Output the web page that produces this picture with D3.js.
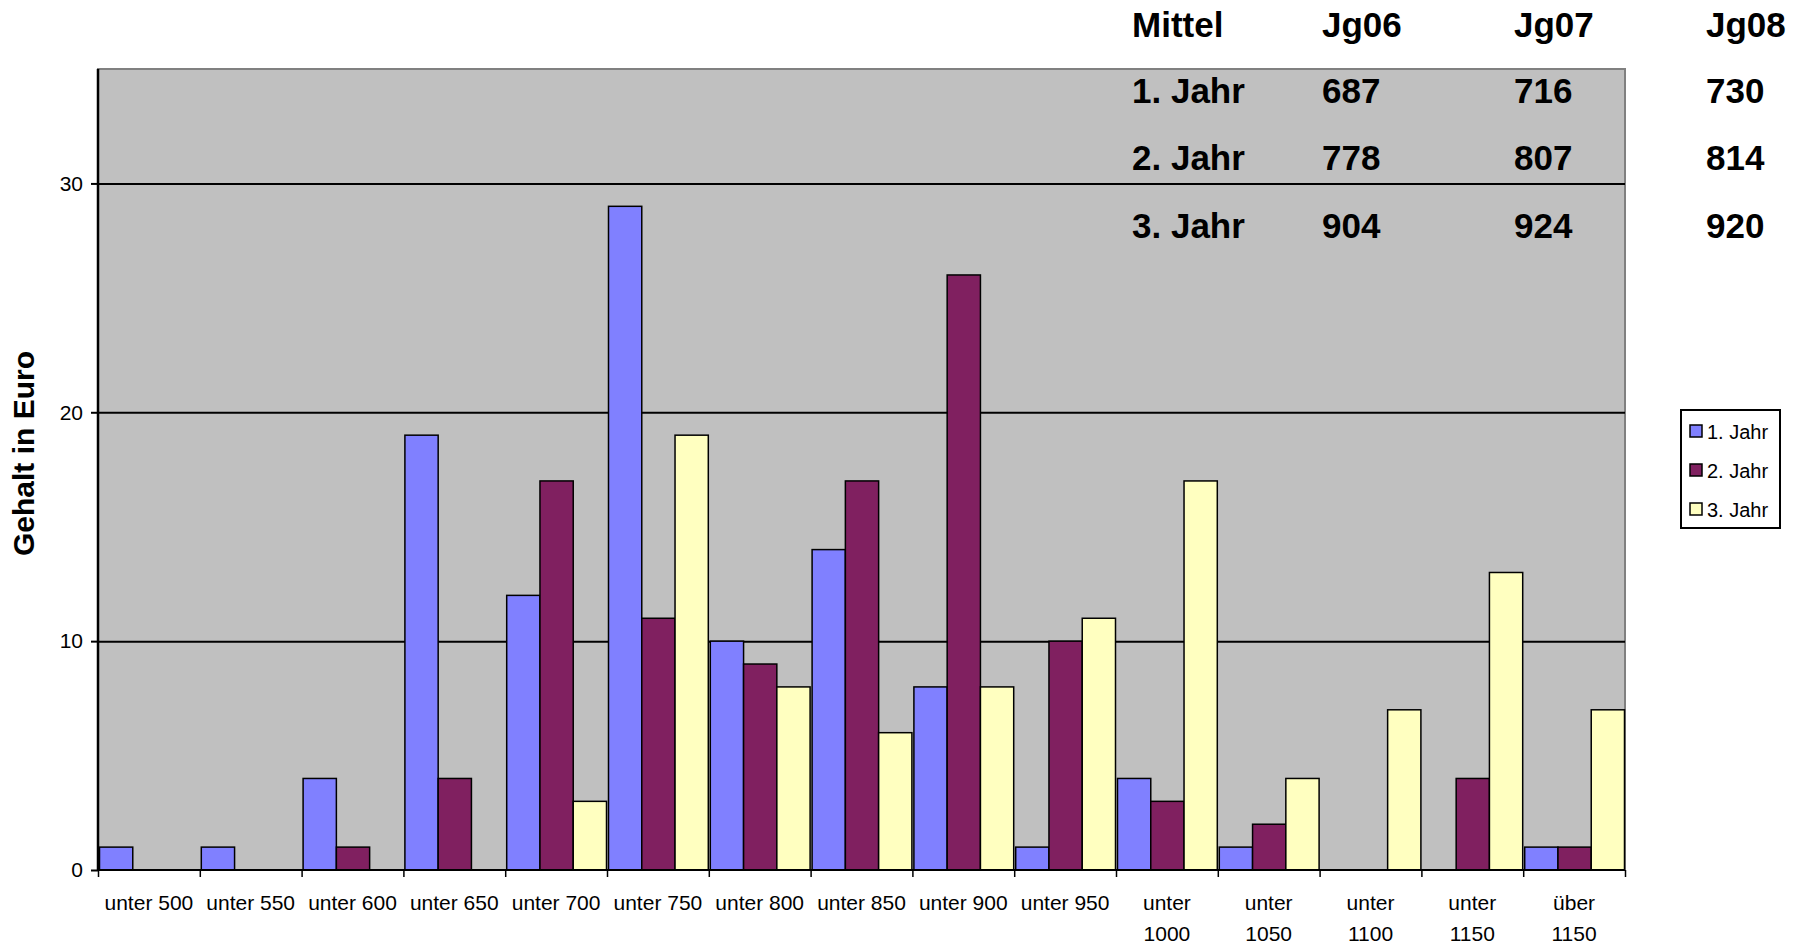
<!DOCTYPE html>
<html>
<head>
<meta charset="utf-8">
<script src="https://cdn.jsdelivr.net/npm/d3@7"></script>
<style>
  body { margin: 0; background: #fff; }
  text { font-family: "Liberation Sans", Arial, sans-serif; }
</style>
</head>
<body>
<div id="chart_container"></div>
<script>
// data
var categories = ["unter 500", "unter 550", "unter 600", "unter 650", "unter 700", "unter 750",
    "unter 800", "unter 850", "unter 900", "unter 950", "unter 1000", "unter 1050",
    "unter 1100", "unter 1150", "über 1150"];
var seriesNames = ["1. Jahr", "2. Jahr", "3. Jahr"];
var jahr1 = [1, 1, 4, 19, 12, 29, 10, 14, 8, 1, 4, 1, 0, 0, 1];
var jahr2 = [0, 0, 1, 4, 17, 11, 9, 17, 26, 10, 3, 2, 0, 4, 1];
var jahr3 = [0, 0, 0, 0, 3, 19, 8, 6, 8, 11, 17, 4, 7, 13, 7];
var yTicks = [0, 10, 20, 30];

// table of averages in the top right
var tableHeader = ["Mittel", "Jg06", "Jg07", "Jg08"];
var tableRows = [
    ["1. Jahr", "687", "716", "730"],
    ["2. Jahr", "778", "807", "814"],
    ["3. Jahr", "904", "924", "920"]
];

var colors = ["#8080FF", "#802060", "#FFFFC0"];

// set the dimensions and margins of the graph
var W = 1808, H = 944;
var margin = { top: 69, right: 183, bottom: 74, left: 98 },
    width = W - margin.left - margin.right,
    height = H - margin.top - margin.bottom;

var series = [jahr1, jahr2, jahr3];

// set the ranges
var x0 = d3.scaleBand().domain(categories).range([0, width]).paddingInner(0).paddingOuter(0);
var x1 = d3.scaleBand().domain(d3.range(3)).range([1.5, x0.bandwidth() - 0.5]);
var xEdge = d3.scaleLinear().domain([0, categories.length]).range([0, width]);
var y = d3.scaleLinear().domain([0, 35]).range([height, 0]);

var svg = d3.select("#chart_container").append("svg")
    .attr("width", W)
    .attr("height", H);

var g = svg.append("g")
    .attr("transform", "translate(" + margin.left + "," + margin.top + ")");

// plot area
g.append("rect")
    .attr("width", width)
    .attr("height", height)
    .attr("fill", "#C0C0C0")
    .attr("stroke", "#808080")
    .attr("stroke-width", 2);

// Y gridlines
g.append("g")
    .attr("class", "grid")
    .call(d3.axisLeft(y).tickValues(yTicks.slice(1)).tickSize(-width).tickFormat(""))
    .call(function(s) {
        s.select(".domain").remove();
        s.selectAll("line").attr("stroke", "#000").attr("stroke-width", 2);
    });

// bars
var groups = g.selectAll(".group")
    .data(categories)
    .enter().append("g")
    .attr("class", "group")
    .attr("transform", function(d) { return "translate(" + x0(d) + ",0)"; });

groups.selectAll("rect")
    .data(function(d, i) { return series.map(function(s, k) { return { k: k, v: s[i] }; }); })
    .enter().filter(function(d) { return d.v > 0; })
    .append("rect")
    .attr("x", function(d) { return x1(d.k); })
    .attr("y", function(d) { return y(d.v); })
    .attr("width", x1.bandwidth())
    .attr("height", function(d) { return height - y(d.v); })
    .attr("fill", function(d) { return colors[d.k]; })
    .attr("stroke", "#000")
    .attr("stroke-width", 1.5);

// Y axis
g.append("g")
    .call(d3.axisLeft(y).tickValues(yTicks).tickSize(7).tickPadding(8))
    .call(function(s) {
        s.select(".domain").attr("d", "M0," + height + "V0").attr("stroke-width", 2.5);
        s.selectAll("line").attr("stroke-width", 2);
        s.selectAll("text").attr("font-size", 21).attr("font-family", "Liberation Sans, Arial, sans-serif").attr("fill", "#000");
    });

// X axis with ticks at category edges
g.append("g")
    .attr("transform", "translate(0," + height + ")")
    .call(d3.axisBottom(xEdge).tickValues(d3.range(categories.length + 1)).tickSize(7).tickFormat(""))
    .call(function(s) {
        s.select(".domain").attr("d", "M0,0H" + width).attr("stroke-width", 2);
        s.selectAll("line").attr("stroke-width", 1.5);
    });

// category labels, wrapped when too wide
var labels = g.append("g")
    .attr("transform", "translate(0," + height + ")");
categories.forEach(function(c) {
    var t = labels.append("text")
        .attr("x", x0(c) + x0.bandwidth() / 2)
        .attr("y", 40)
        .attr("text-anchor", "middle")
        .attr("font-size", 21)
        .text(c);
    if (t.node().getComputedTextLength() > x0.bandwidth() - 10) {
        var words = c.split(" ");
        t.text(null);
        words.forEach(function(w, i) {
            t.append("tspan")
                .attr("x", x0(c) + x0.bandwidth() / 2)
                .attr("dy", i === 0 ? 0 : 31)
                .text(w);
        });
    }
});

// axis title
svg.append("text")
    .attr("transform", "translate(34," + (margin.top + height / 2 - 16) + ") rotate(-90)")
    .attr("text-anchor", "middle")
    .attr("font-size", 30)
    .attr("font-weight", "bold")
    .text("Gehalt in Euro");

// table of averages
var colX = [1132, 1322, 1514, 1706];
var rowY = [37, 103, 170, 238];
var table = svg.append("g")
    .attr("font-size", 35)
    .attr("font-weight", "bold");
[tableHeader].concat(tableRows).forEach(function(row, r) {
    row.forEach(function(cell, c) {
        table.append("text")
            .attr("x", colX[c])
            .attr("y", rowY[r])
            .text(cell);
    });
});

// legend
var legend = svg.append("g")
    .attr("transform", "translate(1681,410)");
legend.append("rect")
    .attr("width", 99)
    .attr("height", 118)
    .attr("fill", "#fff")
    .attr("stroke", "#000")
    .attr("stroke-width", 2);
seriesNames.forEach(function(name, i) {
    var ly = 22 + i * 39;
    legend.append("rect")
        .attr("x", 9)
        .attr("y", ly - 7)
        .attr("width", 12)
        .attr("height", 12)
        .attr("fill", colors[i])
        .attr("stroke", "#000")
        .attr("stroke-width", 1.5);
    legend.append("text")
        .attr("x", 26)
        .attr("y", ly + 7)
        .attr("font-size", 20)
        .text(name);
});
</script>
</body>
</html>
